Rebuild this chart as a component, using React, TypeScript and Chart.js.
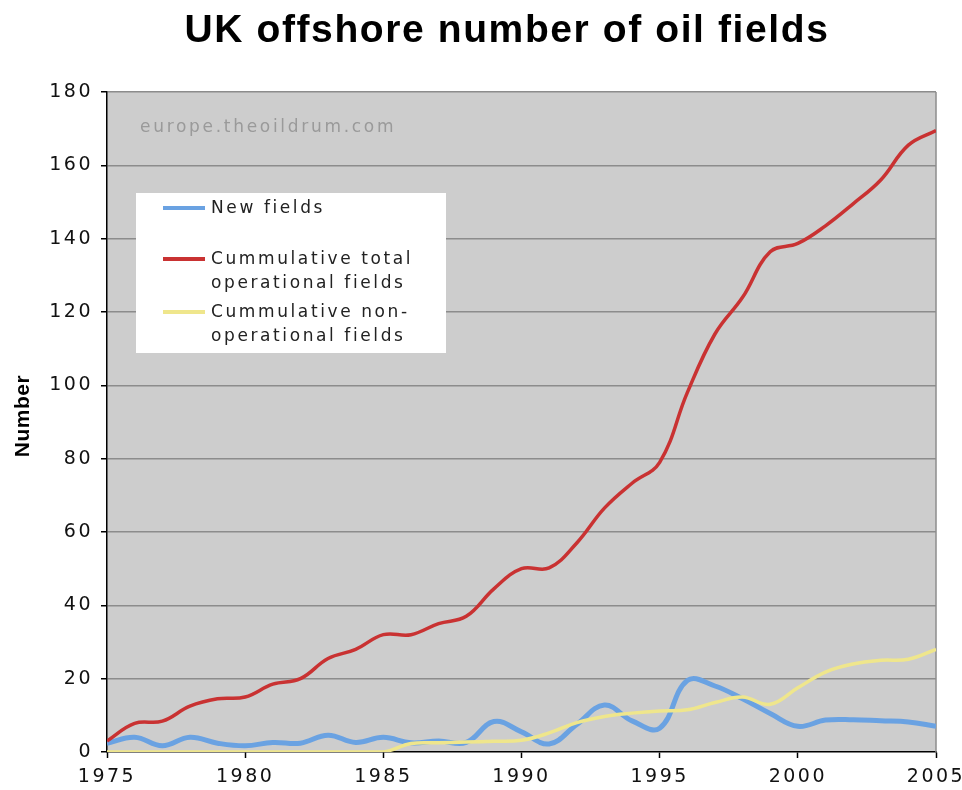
import React, { useEffect, useRef } from 'react';
import { Chart, registerables } from 'chart.js';

Chart.register(...registerables);

// ---- data ----
const years = [
  1975, 1976, 1977, 1978, 1979, 1980, 1981, 1982, 1983, 1984, 1985,
  1986, 1987, 1988, 1989, 1990, 1991, 1992, 1993, 1994, 1995,
  1996, 1997, 1998, 1999, 2000, 2001, 2002, 2003, 2004, 2005,
];
const newFields = [
  2.4, 4.0, 1.7, 4.0, 2.4, 1.7, 2.6, 2.4, 4.6, 2.6, 4.0,
  2.5, 3.0, 2.6, 8.3, 5.5, 2.2, 7.5, 12.8, 8.5, 6.5,
  19.5, 18.0, 14.5, 10.5, 7.0, 8.7, 8.8, 8.5, 8.2, 7.0,
];
const cumOperational = [
  3, 7.8, 8.4, 12.5, 14.5, 15, 18.5, 20, 25.5, 28, 32,
  32, 35, 37, 44.5, 50, 50.2, 57, 66.5, 73.3, 79,
  98, 114, 124, 136.4, 138.7, 143.5, 149.5, 156, 165.5, 169.5,
];
const cumNonOperational = [
  0, 0, 0, 0, 0, 0, 0, 0, 0, 0, 0,
  2.3, 2.5, 2.7, 2.9, 3.2, 5.2, 8, 9.7, 10.6, 11.2,
  11.5, 13.5, 15, 13, 17.5, 21.8, 24, 25, 25.3, 28,
];
const seriesLabels = [
  'New fields',
  'Cummulative total operational fields',
  'Cummulative non-operational fields',
];
const legendLines = [
  ['New fields'],
  ['Cummulative total', 'operational fields'],
  ['Cummulative non-', 'operational fields'],
];
const seriesColors = ['#6aa2e2', '#c93232', '#efe68c'];
const titleText = 'UK offshore number of oil fields';
const yAxisTitle = 'Number';
const watermarkText = 'europe.theoildrum.com';
const xMin = 1975;
const xMax = 2005;
const xStep = 5;
const yMin = 0;
const yMax = 180;
const yStep = 20;

const toPoints = (vals: number[]) => vals.map((v, i) => ({ x: years[i], y: v }));

const decorPlugin = {
  id: 'decor',
  beforeDraw(chart: any) {
    const { ctx, chartArea: a, width, height } = chart;
    ctx.save();
    ctx.fillStyle = '#ffffff';
    ctx.fillRect(0, 0, width, height);
    ctx.fillStyle = '#cdcdcd';
    ctx.fillRect(a.left, a.top, a.right - a.left, a.bottom - a.top);
    ctx.restore();
    ctx.letterSpacing = '2.5px';
  },
  beforeDatasetsDraw(chart: any) {
    const { ctx, chartArea: a } = chart;
    ctx.save();
    ctx.strokeStyle = '#8c8c8c';
    ctx.lineWidth = 1.5;
    ctx.beginPath();
    ctx.moveTo(a.right, a.top);
    ctx.lineTo(a.right, a.bottom);
    ctx.stroke();
    ctx.restore();
    ctx.letterSpacing = '0px';
  },
  afterDraw(chart: any) {
    const { ctx, chartArea: a } = chart;
    ctx.save();
    // title
    ctx.letterSpacing = '1.6px';
    ctx.fillStyle = '#000';
    ctx.font = 'bold 39px "Liberation Sans", Arial, sans-serif';
    ctx.textAlign = 'center';
    ctx.textBaseline = 'alphabetic';
    ctx.fillText(titleText, 507, 42);

    // y axis title
    ctx.save();
    ctx.letterSpacing = '0.5px';
    ctx.translate(23, (a.top + a.bottom) / 2 - 6);
    ctx.rotate(-Math.PI / 2);
    ctx.font = 'bold 21px "Liberation Sans", Arial, sans-serif';
    ctx.textAlign = 'center';
    ctx.textBaseline = 'middle';
    ctx.fillText(yAxisTitle, 0, 0);
    ctx.restore();

    // watermark
    ctx.letterSpacing = '2.7px';
    ctx.fillStyle = '#9a9a9a';
    ctx.font = '17px "DejaVu Sans", sans-serif';
    ctx.textAlign = 'left';
    ctx.textBaseline = 'middle';
    ctx.fillText(watermarkText, a.left + 33, a.top + 36);

    // legend box
    const bx = a.left + 29;
    const by = a.top + 101;
    ctx.fillStyle = '#ffffff';
    ctx.fillRect(bx, by, 310, 160);
    const itemY = [208, 259, 312];
    ctx.font = '17px "DejaVu Sans", sans-serif';
    ctx.letterSpacing = '2.6px';
    legendLines.forEach((lines, i) => {
      const y0 = itemY[i];
      ctx.strokeStyle = seriesColors[i];
      ctx.lineWidth = 4;
      ctx.beginPath();
      ctx.moveTo(a.left + 56, y0);
      ctx.lineTo(a.left + 98, y0);
      ctx.stroke();
      ctx.fillStyle = '#222';
      lines.forEach((t, j) => {
        ctx.fillText(t, a.left + 104, y0 + 1 + j * 24);
      });
    });
    ctx.restore();
    ctx.letterSpacing = '0px';
  },
};

export default function App() {
  const ref = useRef<HTMLCanvasElement | null>(null);
  useEffect(() => {
    if (!ref.current) return;
    const chart = new Chart(ref.current, {
      type: 'line',
      data: {
        datasets: [
          {
            label: seriesLabels[0],
            data: toPoints(newFields),
            borderColor: seriesColors[0],
            borderWidth: 5,
            pointRadius: 0,
            tension: 0.4,
            order: 3,
          },
          {
            label: seriesLabels[1],
            data: toPoints(cumOperational),
            borderColor: seriesColors[1],
            borderWidth: 3.5,
            pointRadius: 0,
            tension: 0.4,
            order: 2,
          },
          {
            label: seriesLabels[2],
            data: toPoints(cumNonOperational),
            borderColor: seriesColors[2],
            borderWidth: 3.5,
            pointRadius: 0,
            tension: 0.4,
            order: 1,
          },
        ],
      },
      options: {
        responsive: false,
        animation: false,
        events: [],
        layout: { padding: { left: 0, top: 92, right: 26, bottom: 0 } },
        plugins: {
          legend: { display: false },
          tooltip: { enabled: false },
          title: { display: false },
        },
        scales: {
          x: {
            type: 'linear',
            min: xMin,
            max: xMax,
            ticks: {
              stepSize: xStep,
              color: '#111',
              font: { family: '"DejaVu Sans", sans-serif', size: 19 },
              padding: 8,
              maxRotation: 0,
              callback: (v: any) => String(v),
            },
            grid: {
              drawOnChartArea: false,
              drawTicks: true,
              tickLength: 6,
              tickColor: '#000',
              tickWidth: 1.5,
            },
            border: { display: true, color: '#000', width: 1.5 },
            afterFit: (s: any) => {
              s.height = 38;
              s.paddingLeft = 0;
              s.paddingRight = 0;
            },
          },
          y: {
            type: 'linear',
            min: yMin,
            max: yMax,
            ticks: {
              stepSize: yStep,
              color: '#111',
              font: { family: '"DejaVu Sans", sans-serif', size: 19 },
              padding: 8,
            },
            grid: {
              color: (c: any) => (c.tick && c.tick.value === 0 ? 'rgba(0,0,0,0)' : '#8c8c8c'),
              lineWidth: 1.5,
              drawTicks: true,
              tickLength: 6,
              tickColor: '#000',
              tickWidth: 1.5,
            },
            border: { display: true, color: '#000', width: 1.5 },
            afterFit: (s: any) => {
              s.width = 107;
              s.paddingTop = 0;
              s.paddingBottom = 0;
            },
          },
        },
      },
      plugins: [decorPlugin],
    } as any);
    return () => chart.destroy();
  }, []);
  return (
    <div style={{ position: 'fixed', left: 0, top: 0, width: 962, height: 790, background: '#fff' }}>
      <canvas ref={ref} width={962} height={790} style={{ display: 'block', width: 962, height: 790 }} />
    </div>
  );
}
